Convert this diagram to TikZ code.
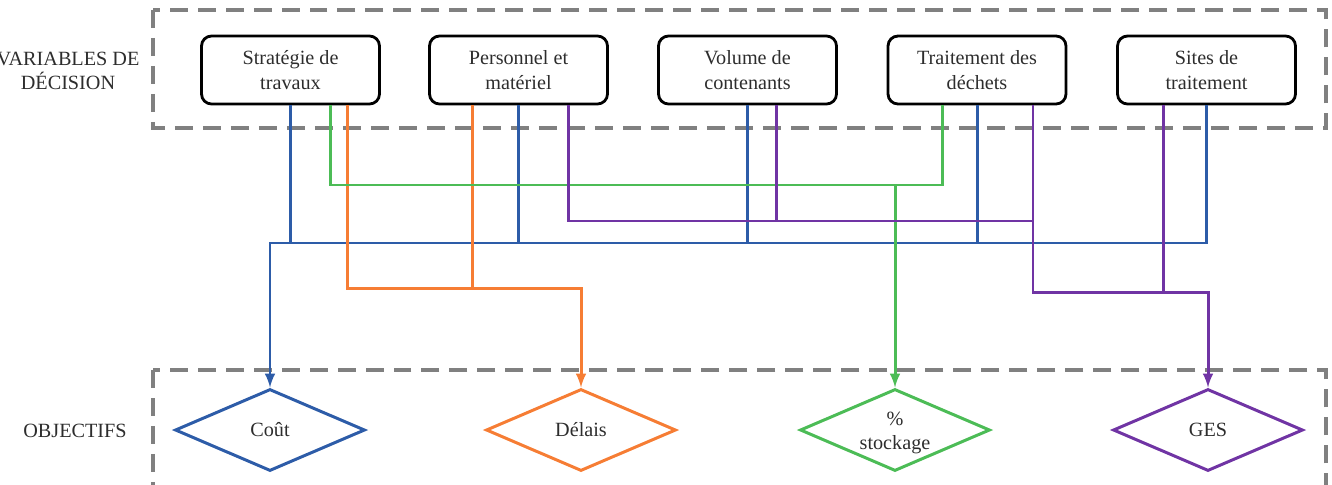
\documentclass[tikz,border=0pt]{standalone}
\usepackage{fontspec}
\setmainfont{Liberation Serif}
\newfontfamily\schemafont{Liberation Serif}
\usetikzlibrary{arrows}
\usetikzlibrary{shapes.geometric}
\usetikzlibrary{calc}

\definecolor{bleucout}{RGB}{45,92,168}
\definecolor{orangedelai}{RGB}{246,125,52}
\definecolor{vertstock}{RGB}{76,188,86}
\definecolor{violetges}{RGB}{112,52,164}
\definecolor{grisbord}{RGB}{128,128,128}
\definecolor{texte}{RGB}{45,45,45}

\begin{document}
\begin{tikzpicture}[x=0.02cm, y=-0.02cm,
    font=\schemafont\fontsize{11.5}{14}\selectfont, text=texte,
    zone/.style={draw=grisbord, line width=2.3pt, dash pattern=on 0.36cm off 0.2cm},
    varbox/.style={draw=black, line width=1.6pt, rounded corners=0.2cm,
        minimum width=3.56cm, minimum height=1.36cm, align=center},
    objbox/.style={diamond, line width=1.7pt, minimum width=3.8cm,
        minimum height=1.64cm, inner sep=0pt, align=center},
    lien/.style={line width=1.7pt}]
    \useasboundingbox (0,0) rectangle (1332,484);

    % zones
    \draw [zone] (153,10) rectangle (1326,128);
    \draw [zone] (153,370) rectangle (1326,530);

    \node [align=center] (variables) at (68,71) {VARIABLES DE\\DÉCISION};
    \node (objectifs) at (75,431) {OBJECTIFS};

    % variables de decision
    \node [varbox] (strat) at (290.5,70) {Stratégie de\\travaux};
    \node [varbox] (perso) at (518.5,70) {Personnel et\\matériel};
    \node [varbox] (volume) at (747.5,70) {Volume de\\contenants};
    \node [varbox] (traite) at (977,70) {Traitement des\\déchets};
    \node [varbox] (sites) at (1206.5,70) {Sites de\\traitement};

    % objectifs
    \node [objbox, draw=bleucout] (cout) at (270,430) {Coût};
    \node [objbox, draw=orangedelai] (delais) at (581,430) {Délais};
    \node [objbox, draw=vertstock, label={[align=center, yshift=-0.06cm]center:\%\\stockage}] (stock) at (895,430) {};
    \node [objbox, draw=violetges] (ges) at (1208,430) {GES};

    \coordinate (niv vert) at (0,185);
    \coordinate (niv violet) at (0,221);
    \coordinate (niv bleu) at (0,243);
    \coordinate (niv orange) at (0,288);
    \coordinate (niv ges) at (0,292);

    % cout
    \draw [lien, bleucout, -latex] (sites.south) |- (cout.north |- niv bleu) -- (cout.north);
    \foreach \n in {strat, perso, volume, traite}
        \draw [lien, bleucout] (\n.south) -- (\n.south |- niv bleu);

    % delais
    \draw [lien, orangedelai, -latex] ([xshift=1.14cm]strat.south) |- (delais.north |- niv orange) -- (delais.north);
    \draw [lien, orangedelai] ([xshift=-0.92cm]perso.south) -- ([xshift=-0.92cm]perso.south |- niv orange);

    % stockage
    \draw [lien, vertstock] ([xshift=0.8cm]strat.south) |- ([xshift=-0.7cm]traite.south |- niv vert) -- ([xshift=-0.7cm]traite.south);
    \draw [lien, vertstock, -latex] (stock.north |- niv vert) -- (stock.north);

    % ges
    \draw [lien, violetges] ([xshift=1cm]perso.south) |- ([xshift=1.12cm]traite.south |- niv violet);
    \draw [lien, violetges] ([xshift=0.58cm]volume.south) -- ([xshift=0.58cm]volume.south |- niv violet);
    \draw [lien, violetges, -latex] ([xshift=1.12cm]traite.south) |- (ges.north |- niv ges) -- (ges.north);
    \draw [lien, violetges] ([xshift=-0.86cm]sites.south) -- ([xshift=-0.86cm]sites.south |- niv ges);
\end{tikzpicture}
\end{document}
